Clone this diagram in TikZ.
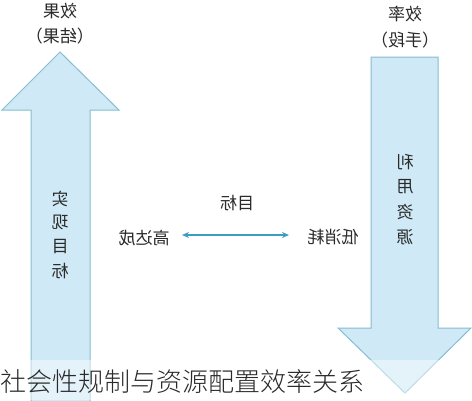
\documentclass[tikz,border=0pt]{standalone}
\usepackage{fontspec}
\usepackage{graphicx}
\newfontfamily\cjk{Noto Sans CJK SC}
\newfontfamily\cjklight{Noto Sans CJK SC Light}
\usetikzlibrary{arrows.meta}
\definecolor{arrfill}{HTML}{CFEAF6}
\definecolor{arredge}{HTML}{86BDD0}
\definecolor{midarrow}{HTML}{3C9DC2}
\definecolor{txt}{HTML}{2A2A2A}
\tikzset{
  bigarrow/.style={fill=arrfill,draw=arredge,line width=1pt},
  mtext/.style={font=\cjk\fontsize{17}{19}\selectfont,text=txt,inner sep=0pt},
}
\newcommand{\mir}[1]{\reflectbox{#1}}
\begin{document}
\begin{tikzpicture}[x=1pt,y=-1pt]
\useasboundingbox (0,0) rectangle (472,400);
\fill[white] (0,0) rectangle (472,400);
% left up arrow
\draw[bigarrow] (31,402) -- (31,110) -- (2,110) -- (60,52) -- (119,110) -- (90,110) -- (90,402);
% right down arrow
\draw[bigarrow] (371,57) -- (438,57) -- (438,328) -- (471,328) -- (405,393) -- (338,328) -- (371,328) -- cycle;
% top labels
\node[mtext] (lt1) at (60,11) {\mir{效果}};
\node[mtext] (lt2) at (60,36) {\mir{（结果）}};
\node[mtext] (rt1) at (405,14) {\mir{效率}};
\node[mtext] (rt2) at (405,40) {\mir{（手段）}};
% vertical texts
\node[mtext] (l1) at (60,199) {\mir{实}};
\node[mtext] (l2) at (60,222) {\mir{现}};
\node[mtext] (l3) at (60,247) {\mir{目}};
\node[mtext] (l4) at (60,271) {\mir{标}};
\node[mtext] (r1) at (405,162) {\mir{利}};
\node[mtext] (r2) at (405,187) {\mir{用}};
\node[mtext] (r3) at (405,212) {\mir{资}};
\node[mtext] (r4) at (405,237) {\mir{源}};
% middle
\node[mtext] (goal) at (237,203) {\mir{目标}};
\node[mtext] (hi) at (144,238) {\mir{高达成}};
\node[mtext] (lo) at (333,237) {\mir{低消耗}};
\coordinate (ma) at (182,235);
\coordinate (mb) at (289,235);
\draw[midarrow,line width=1.2pt,{Stealth[length=7pt,width=6pt]}-{Stealth[length=7pt,width=6pt]}] (ma) -- (mb);
% caption band
\fill[white,opacity=0.45] (0,360) rectangle (472,400);
\node[font=\cjklight\fontsize{26}{28}\selectfont,text=txt,anchor=west,inner sep=0pt] (cap) at (0,382) {社会性规制与资源配置效率关系};
\end{tikzpicture}
\end{document}
